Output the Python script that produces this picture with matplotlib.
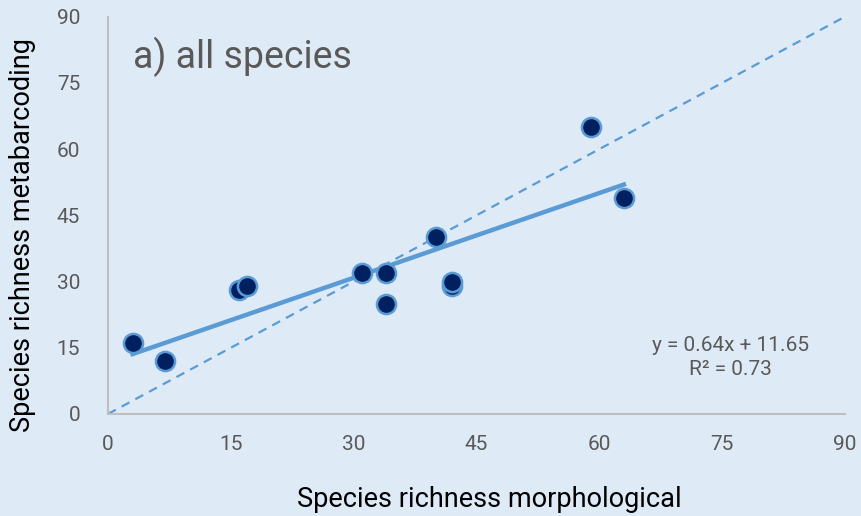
import matplotlib.pyplot as plt
import numpy as np

# Data
morpho = [3, 7, 16, 17, 31, 34, 34, 40, 42, 42, 59, 63]
metabar = [16, 12, 28, 29, 32, 32, 25, 40, 29, 30, 65, 49]
slope, intercept = 0.64, 11.65
r2 = 0.73
ticks = [0, 15, 30, 45, 60, 75, 90]

bg = '#DEEAF6'
light = '#5B9BD5'
navy = '#002060'
grey = '#595959'

plt.rcParams['font.family'] = ['Roboto', 'DejaVu Sans']

fig = plt.figure(figsize=(8.61, 5.16), dpi=100, facecolor=bg)
ax = fig.add_axes([0.1254, 0.1977, 0.856, 0.770])
ax.set_facecolor(bg)

# 1:1 line
ax.plot([0, 90], [0, 90], linestyle=(0, (4, 3)), color=light, linewidth=1.6, zorder=1)

# Trendline
xs = np.array([min(morpho), max(morpho)])
ax.plot(xs, slope * xs + intercept, color=light, linewidth=3.2, zorder=2)

# Points
ax.scatter(morpho, metabar, s=190, color=navy, edgecolors=light, linewidths=1.8, zorder=3)

ax.set_xlim(0, 90)
ax.set_ylim(0, 90)
ax.set_xticks(ticks)
ax.set_yticks(ticks)
ax.tick_params(length=0, labelsize=15, labelcolor=grey)
ax.tick_params(axis='x', pad=15)
ax.tick_params(axis='y', pad=20)

for s in ['top', 'right']:
    ax.spines[s].set_visible(False)
for s in ['left', 'bottom']:
    ax.spines[s].set_color('#BFBFBF')
    ax.spines[s].set_linewidth(1.5)

ax.set_xlabel("Species richness morphological", fontsize=19.5)
ax.set_ylabel("Species richness metabarcoding", fontsize=19.5)
ax.xaxis.set_label_coords(0.518, -0.18)
ax.yaxis.set_label_coords(-0.098, 0.45)

ax.text(3, 81, "a) all species", fontsize=27, color=grey, va='center', ha='left')
ax.text(76, 12.8, f"y = {slope:.2f}x + {intercept:.2f}\nR² = {r2:.2f}",
        fontsize=15, color=grey, ha='center', va='center', linespacing=1.3)

plt.savefig("out.png", dpi=100, facecolor=bg)
